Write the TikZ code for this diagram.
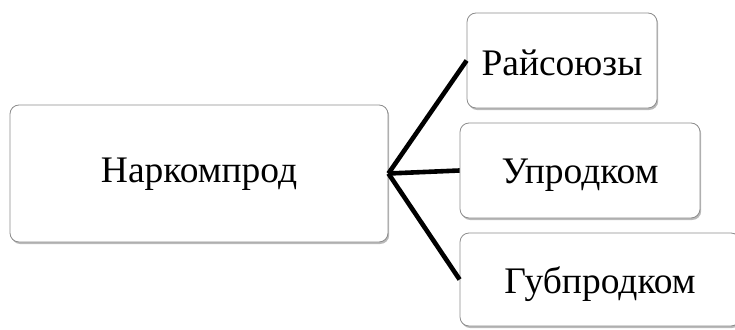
\documentclass[tikz,border=0pt]{standalone}
\usepackage{fontspec}
\setmainfont{Liberation Serif}
\usetikzlibrary{shadows}
\tikzset{
  box/.style={draw=black!45, line width=0.8pt, rounded corners=9pt, fill=white,
    drop shadow={shadow xshift=1.2pt, shadow yshift=-2pt, opacity=0.45, fill=black!60},
    font=\fontsize{37.5}{42}\selectfont, inner sep=0pt, text height=25pt, text depth=8pt},
  link/.style={line width=4.6pt, black}
}
\begin{document}
\begin{tikzpicture}[x=1pt,y=-1pt]
\useasboundingbox (0,0) rectangle (735,329);
\clip (0,0) rectangle (735,329);
\node[box, minimum width=378pt, minimum height=137pt] (main) at (199,173.5) {Наркомпрод};
\node[box, minimum width=190pt, minimum height=95pt] (r1) at (562,60.5) {\raisebox{-6pt}{Райсоюзы}};
\node[box, minimum width=240pt, minimum height=95pt] (r2) at (580,170.5) {\raisebox{-4pt}{Упродком}};
\node[box, minimum width=280pt, minimum height=93pt] (r3) at (600,279.5) {\raisebox{-5pt}{Губпродком}};
\draw[link] (main.east) -- (r1.west);
\draw[link] (main.east) -- (r2.west);
\draw[link] (main.east) -- (r3.west);
\end{tikzpicture}
\end{document}
